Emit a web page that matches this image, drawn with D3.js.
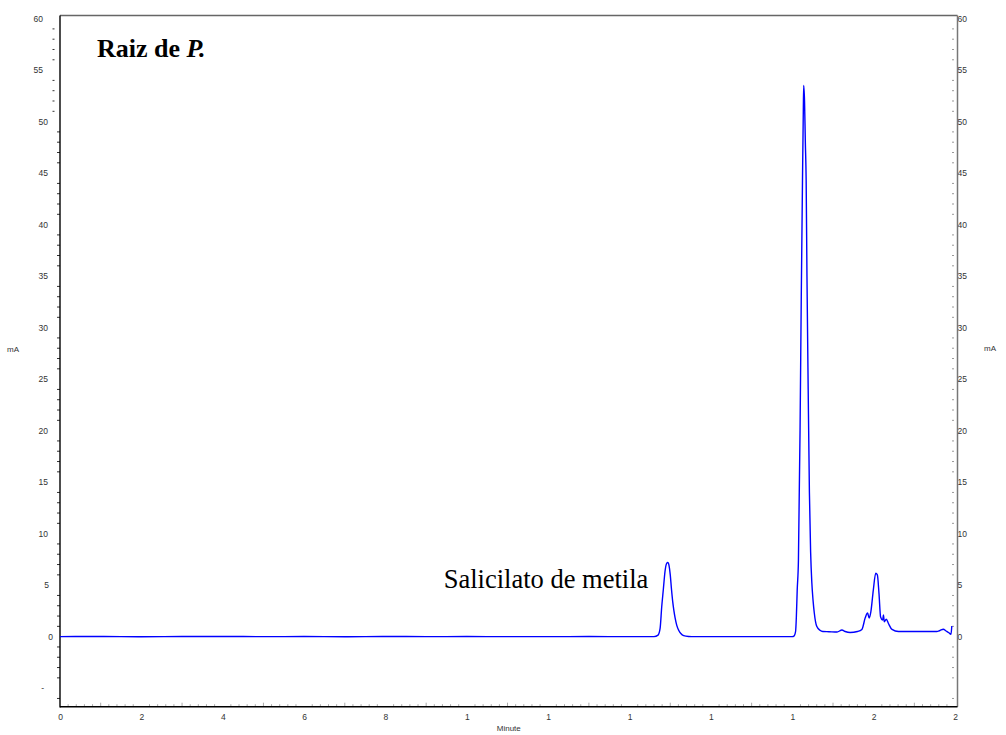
<!DOCTYPE html>
<html>
<head>
<meta charset="utf-8">
<script src="https://cdn.jsdelivr.net/npm/d3@7"></script>
<style>
  body { margin: 0; background: #fff; }
  svg { display: block; }
</style>
</head>
<body>
<svg id="chart" width="1006" height="735"></svg>
<script>
// chromatogram trace (minutes, mA)
var minutes = [0, 1, 2, 3, 4, 5, 6, 7, 8, 9, 10, 11, 12, 13, 14, 14.6,
  14.70, 14.75, 14.79, 14.83, 14.87, 14.91, 14.94, 14.97, 15.00, 15.03, 15.06, 15.09,
  15.12, 15.16, 15.21, 15.26, 15.33, 15.45, 15.6, 16, 17, 17.5, 18.0,
  18.04, 18.08, 18.10, 18.12, 18.15, 18.19, 18.22, 18.25, 18.27, 18.28, 18.30,
  18.32, 18.34, 18.36, 18.39, 18.42, 18.45, 18.48, 18.51, 18.54, 18.60, 18.68,
  18.75, 18.9, 19.1, 19.22, 19.30, 19.42, 19.6, 19.71, 19.79, 19.85, 19.89,
  19.93, 19.99, 20.05, 20.09, 20.13, 20.17, 20.22, 20.24, 20.26, 20.31, 20.36,
  20.45, 20.61, 21.0, 21.55, 21.63, 21.71, 21.78, 21.84, 21.90, 21.92];
var mA = [0, 0.02, -0.01, 0.01, 0.02, 0, 0.01, -0.01, 0.02, 0, 0.01, 0, 0, 0.01, 0, 0,
  0.15, 0.8, 2.9, 4.6, 6.3, 7.1, 7.2, 6.9, 6.0, 4.6, 3.4, 2.5,
  1.8, 1.1, 0.6, 0.3, 0.1, 0.02, 0, 0, 0, 0, 0,
  0.05, 0.5, 2.0, 4.5, 7.4, 20, 33, 44.3, 51, 53.5, 52,
  48, 44.3, 35, 24, 14, 8.2, 5.2, 3.5, 2.3, 1.0, 0.62,
  0.5, 0.48, 0.45, 0.65, 0.5, 0.4, 0.5, 0.7, 1.8, 2.3, 1.8,
  2.4, 4.5, 6.15, 6.0, 4.2, 1.9, 1.6, 2.1, 1.45, 1.7, 1.3,
  0.7, 0.5, 0.5, 0.5, 0.6, 0.72, 0.55, 0.4, 0.23, 1.04];

var xTicks = [0, 2, 4, 6, 8, 10, 12, 14, 16, 18, 20, 22];
var xTickLabels = ["0", "2", "4", "6", "8", "1", "1", "1", "1", "1", "2", "2"];
var yTicks = [-5, 0, 5, 10, 15, 20, 25, 30, 35, 40, 45, 50, 55, 60];
var yTickLabels = ["-", "0", "5", "10", "15", "20", "25", "30", "35", "40", "45", "50", "55", "60"];

var svg = d3.select("#chart"),
  pLeft = 60, pRight = 957.5, pTop = 15.5, pBottom = 706.7,
  sans = "'Liberation Sans', Arial, sans-serif",
  serif = "'Liberation Serif', 'Times New Roman', serif";

var x = d3.scaleLinear().domain([0, 22.06]).range([pLeft, pRight]);
var y = d3.scaleLinear().domain([-6.8, 60.3]).range([pBottom, pTop]);

// minor ticks
var yMinor = d3.range(-6, 61).filter(function(d) { return d % 5 !== 0; });
var xMinor = d3.range(1, 111).map(function(d) { return d / 5; }).filter(function(d) { return d % 2 !== 0; });

svg.append("g").selectAll("line").data(yMinor).join("line")
  .attr("x1", function(d) { return d > 50 ? pLeft - 7.5 : pLeft - 3; })
  .attr("x2", function(d) { return d > 50 ? pLeft - 5.5 : pLeft; })
  .attr("y1", function(d) { return y(d); })
  .attr("y2", function(d) { return y(d); })
  .attr("stroke", "#333").attr("stroke-width", 1);

svg.append("g").selectAll("line").data(yMinor).join("line")
  .attr("x1", pRight - 5.5).attr("x2", pRight - 3.5)
  .attr("y1", function(d) { return y(d); })
  .attr("y2", function(d) { return y(d); })
  .attr("stroke", "#999").attr("stroke-width", 1);

svg.append("g").selectAll("line").data(xMinor).join("line")
  .attr("x1", function(d) { return x(d); })
  .attr("x2", function(d) { return x(d); })
  .attr("y1", pBottom)
  .attr("y2", function(d) { return Math.abs(d - Math.round(d)) < 1e-6 ? pBottom - 4 : pBottom - 2.5; })
  .attr("stroke", "#aaa").attr("stroke-width", 1);

// left axis labels
var leftAxis = svg.append("g")
  .attr("transform", "translate(" + pLeft + ",0)")
  .call(d3.axisLeft(y).tickValues(yTicks)
    .tickFormat(function(d, i) { return yTickLabels[i]; })
    .tickSize(0).tickPadding(12));
leftAxis.select(".domain").remove();
leftAxis.selectAll("text")
  .attr("x", function(d) {
    if (d >= 55) return -17;
    if (d === -5) return -16;
    if (d === 0) return -7;
    if (d === 5) return -11;
    return -12;
  })
  .attr("font-family", sans).attr("font-size", 8.5).attr("fill", "#333");

var rightAxis = svg.append("g")
  .attr("transform", "translate(" + pRight + ",0)")
  .call(d3.axisRight(y).tickValues(yTicks.filter(function(d) { return d >= 0; }))
    .tickFormat(function(d) { return String(d); })
    .tickSize(0).tickPadding(0));
rightAxis.select(".domain").remove();
rightAxis.selectAll("text")
  .attr("font-family", sans).attr("font-size", 8.5).attr("fill", "#333");

var bottomAxis = svg.append("g")
  .attr("transform", "translate(0," + pBottom + ")")
  .call(d3.axisBottom(x).tickValues(xTicks)
    .tickFormat(function(d, i) { return xTickLabels[i]; })
    .tickSize(0).tickPadding(7));
bottomAxis.select(".domain").remove();
bottomAxis.selectAll("text")
  .attr("font-family", sans).attr("font-size", 8.5).attr("fill", "#333");

// frame
svg.append("line").attr("x1", pLeft).attr("x2", pRight).attr("y1", pTop).attr("y2", pTop)
  .attr("stroke", "#666").attr("stroke-width", 1.3);
svg.append("line").attr("x1", pRight).attr("x2", pRight).attr("y1", pTop).attr("y2", pBottom)
  .attr("stroke", "#777").attr("stroke-width", 1.5);
svg.append("line").attr("x1", pLeft).attr("x2", pLeft).attr("y1", pTop).attr("y2", pBottom + 0.7)
  .attr("stroke", "#000").attr("stroke-width", 1.4);
svg.append("line").attr("x1", pLeft).attr("x2", pRight).attr("y1", pBottom).attr("y2", pBottom)
  .attr("stroke", "#000").attr("stroke-width", 1.4);

// axis titles
svg.append("text").attr("x", 13).attr("y", 350).attr("text-anchor", "middle")
  .attr("dominant-baseline", "middle")
  .attr("font-family", sans).attr("font-size", 8).attr("fill", "#333").text("mA");
svg.append("text").attr("x", 990).attr("y", 349).attr("text-anchor", "middle")
  .attr("dominant-baseline", "middle")
  .attr("font-family", sans).attr("font-size", 8).attr("fill", "#333").text("mA");
svg.append("text").attr("x", (pLeft + pRight) / 2).attr("y", 729).attr("text-anchor", "middle")
  .attr("dominant-baseline", "middle")
  .attr("font-family", sans).attr("font-size", 8).attr("fill", "#333").text("Minute");

// trace
var points = minutes.map(function(t, i) { return [t, mA[i]]; });
var line = d3.line()
  .x(function(d) { return x(d[0]); })
  .y(function(d) { return y(d[1]); })
  .curve(d3.curveMonotoneX);

svg.append("path")
  .datum(points)
  .attr("d", line)
  .attr("fill", "none")
  .attr("stroke", "#0000ff")
  .attr("stroke-width", 1.4)
  .attr("stroke-linejoin", "round");

// title and annotation
var title = svg.append("text").attr("x", 97).attr("y", 57)
  .attr("font-family", serif).attr("font-size", 26).attr("font-weight", "bold")
  .attr("fill", "#000");
title.append("tspan").text("Raiz de ");
title.append("tspan").attr("font-style", "italic").text("P.");

svg.append("text")
  .attr("x", x(14.46)).attr("y", y(4.7))
  .attr("text-anchor", "end")
  .attr("font-family", serif).attr("font-size", 26.5).attr("fill", "#000")
  .text("Salicilato de metila");
</script>
</body>
</html>
